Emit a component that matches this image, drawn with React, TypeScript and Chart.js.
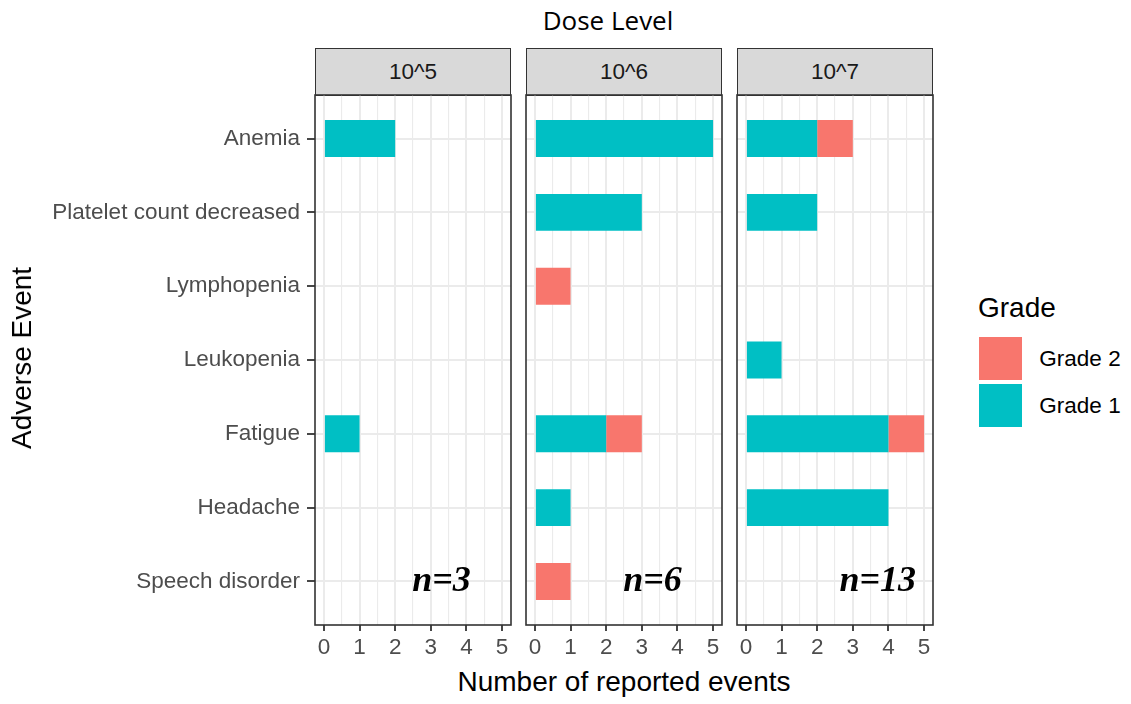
import React, { useEffect, useRef } from "react";
import { Chart, registerables } from "chart.js";

Chart.register(...registerables);

// Adverse events listed top to bottom
const events = [
  "Anemia",
  "Platelet count decreased",
  "Lymphopenia",
  "Leukopenia",
  "Fatigue",
  "Headache",
  "Speech disorder",
];

const doseLevels = ["10^5", "10^6", "10^7"];
const patientCounts = ["n=3", "n=6", "n=13"];
const countLabelX = [3.3, 3.3, 3.7];

// Number of reported events per event, by grade and dose level
const grade1Dose5 = [2, 0, 0, 0, 1, 0, 0];
const grade2Dose5 = [0, 0, 0, 0, 0, 0, 0];
const grade1Dose6 = [5, 3, 0, 0, 2, 1, 0];
const grade2Dose6 = [0, 0, 1, 0, 1, 0, 1];
const grade1Dose7 = [2, 2, 0, 1, 4, 4, 0];
const grade2Dose7 = [1, 0, 0, 0, 1, 0, 0];

const grade1ByDose = [grade1Dose5, grade1Dose6, grade1Dose7];
const grade2ByDose = [grade2Dose5, grade2Dose6, grade2Dose7];

const xTicks = [0, 1, 2, 3, 4, 5];
const legendItems = ["Grade 2", "Grade 1"];

const GRADE1 = "#00BFC4";
const GRADE2 = "#F8766D";
const SANS = "'Liberation Sans', Arial, Helvetica, sans-serif";

const panelLefts = [315, 526, 737];
const PANEL_W = 196;
const PANEL_TOP = 95;
const TOP_PAD = 30;

const panelFrame = {
  id: "panelFrame",
  afterDraw(chart: any) {
    const { ctx, chartArea: a } = chart;
    ctx.save();
    ctx.strokeStyle = "#333333";
    ctx.lineWidth = 1.6;
    ctx.strokeRect(a.left, a.top, a.right - a.left, a.bottom - a.top);
    ctx.restore();
  },
};

const countLabel = {
  id: "countLabel",
  afterDatasetsDraw(chart: any, _args: any, opts: any) {
    if (!opts || !opts.text) return;
    const { ctx } = chart;
    const px = chart.scales.x.getPixelForValue(opts.x);
    const py = chart.scales.y.getPixelForValue(opts.y);
    ctx.save();
    ctx.font = "italic bold 36px 'Liberation Serif', 'Times New Roman', serif";
    ctx.fillStyle = "#000000";
    ctx.textAlign = "center";
    ctx.textBaseline = "middle";
    ctx.fillText(opts.text, px, py);
    ctx.restore();
  },
};

function Panel({ index }: { index: number }) {
  const ref = useRef<HTMLCanvasElement | null>(null);
  const first = index === 0;
  const canvasLeft = first ? 0 : panelLefts[index] - 10;
  const canvasWidth = first ? panelLefts[0] + PANEL_W + 10 : PANEL_W + 20;
  const canvasTop = PANEL_TOP - TOP_PAD;
  const canvasHeight = 600;

  useEffect(() => {
    if (!ref.current) return;
    const g1 = grade1ByDose[index];
    const g2 = grade2ByDose[index];
    const chart = new Chart(ref.current, {
      type: "bar",
      data: {
        datasets: [
          {
            label: "Grade 1",
            data: g1.map((v, i) => ({ x: v, y: i })),
            backgroundColor: GRADE1,
            borderWidth: 0,
            barPercentage: 0.5,
            categoryPercentage: 1,
          },
          {
            label: "Grade 2",
            data: g2.map((v, i) => ({ x: v, y: i })),
            backgroundColor: GRADE2,
            borderWidth: 0,
            barPercentage: 0.5,
            categoryPercentage: 1,
          },
        ],
      },
      options: {
        indexAxis: "y",
        animation: false,
        responsive: false,
        devicePixelRatio: 1,
        layout: {
          padding: { top: TOP_PAD, right: 10, bottom: 0, left: first ? 0 : 10 },
        },
        plugins: {
          legend: { display: false },
          tooltip: { enabled: false },
          countLabel: { text: patientCounts[index], x: countLabelX[index], y: 6 },
        } as any,
        scales: {
          x: {
            type: "linear",
            stacked: true,
            offset: false,
            min: -0.25,
            max: 5.25,
            afterBuildTicks: (scale: any) => {
              const vals: number[] = [];
              xTicks.forEach((t, i) => {
                vals.push(t);
                if (i < xTicks.length - 1) vals.push(t + 0.5);
              });
              scale.ticks = vals.map((v) => ({ value: v }));
            },
            afterFit: (scale: any) => {
              scale.height = 40;
            },
            border: { display: false },
            grid: {
              offset: false,
              color: "#EBEBEB",
              lineWidth: (c: any) => (Number.isInteger(c.tick?.value) ? 2 : 1.1),
              drawTicks: true,
              tickLength: 6,
              tickWidth: 1.8,
              tickColor: (c: any) =>
                Number.isInteger(c.tick?.value) ? "#333333" : "rgba(0,0,0,0)",
            },
            ticks: {
              padding: 3,
              color: "#4D4D4D",
              font: { family: SANS, size: 22.5 },
              maxRotation: 0,
              autoSkip: false,
              callback: (v: any) => (Number.isInteger(v) ? String(v) : ""),
            },
          },
          y: {
            type: "linear",
            stacked: true,
            offset: false,
            reverse: true,
            min: -0.59,
            max: 6.59,
            afterBuildTicks: (scale: any) => {
              scale.ticks = events.map((_, i) => ({ value: i }));
            },
            afterFit: (scale: any) => {
              scale.width = first ? panelLefts[0] : 0;
            },
            border: { display: false },
            grid: {
              offset: false,
              color: "#EBEBEB",
              lineWidth: 2,
              drawTicks: first,
              tickLength: 8,
              tickWidth: 1.8,
              tickColor: "#333333",
            },
            ticks: {
              display: first,
              padding: 7,
              color: "#4D4D4D",
              font: { family: SANS, size: 22.5 },
              autoSkip: false,
              callback: (v: any) => events[v] ?? "",
            },
          },
        },
      },
      plugins: [countLabel, panelFrame],
    } as any);
    return () => chart.destroy();
  }, [index]);

  return (
    <>
      <div
        style={{
          position: "absolute",
          left: panelLefts[index],
          top: 48,
          width: PANEL_W,
          height: 48,
          boxSizing: "border-box",
          background: "#D9D9D9",
          border: "1.6px solid #333333",
          display: "flex",
          alignItems: "center",
          justifyContent: "center",
          fontFamily: SANS,
          fontSize: 22.5,
          color: "#1A1A1A",
        }}
      >
        {doseLevels[index]}
      </div>
      <canvas
        ref={ref}
        width={canvasWidth}
        height={canvasHeight}
        style={{
          position: "absolute",
          left: canvasLeft,
          top: canvasTop,
          width: canvasWidth,
          height: canvasHeight,
        }}
      />
    </>
  );
}

const centered = (x: number, y: number): React.CSSProperties => ({
  position: "absolute",
  left: x,
  top: y,
  transform: "translate(-50%, -50%)",
  whiteSpace: "nowrap",
  lineHeight: 1,
});

export default function App() {
  return (
    <div
      style={{
        position: "absolute",
        left: 0,
        top: 0,
        width: 1131,
        height: 704,
        background: "#FFFFFF",
        overflow: "hidden",
      }}
    >
      <div
        style={{
          ...centered(608, 20),
          fontFamily: "'Open Sans', sans-serif",
          fontSize: 26,
          color: "#000",
        }}
      >
        Dose Level
      </div>

      {doseLevels.map((_, i) => (
        <Panel key={i} index={i} />
      ))}

      <div
        style={{
          ...centered(624, 682),
          fontFamily: SANS,
          fontSize: 28,
          color: "#000",
        }}
      >
        Number of reported events
      </div>

      <div
        style={{
          ...centered(22, 358),
          transform: "translate(-50%, -50%) rotate(-90deg)",
          fontFamily: SANS,
          fontSize: 28,
          color: "#000",
        }}
      >
        Adverse Event
      </div>

      <div
        style={{
          position: "absolute",
          left: 978,
          top: 294,
          fontFamily: SANS,
          fontSize: 28,
          lineHeight: 1,
          color: "#000",
        }}
      >
        Grade
      </div>
      {legendItems.map((label, i) => (
        <React.Fragment key={label}>
          <div
            style={{
              position: "absolute",
              left: 979,
              top: 337 + i * 47,
              width: 43,
              height: 43,
              background: label === "Grade 1" ? GRADE1 : GRADE2,
            }}
          />
          <div
            style={{
              ...centered(1080, 359 + i * 47),
              fontFamily: SANS,
              fontSize: 22.5,
              color: "#000",
            }}
          >
            {label}
          </div>
        </React.Fragment>
      ))}
    </div>
  );
}
